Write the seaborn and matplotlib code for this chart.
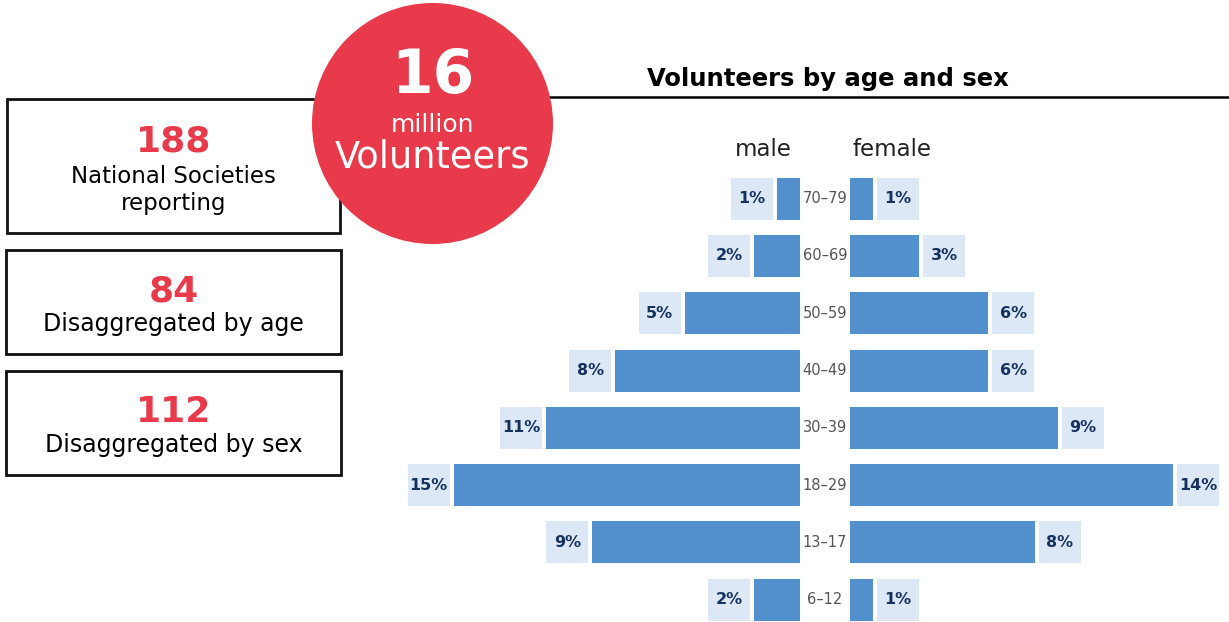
import matplotlib
matplotlib.use("Agg")
import matplotlib.pyplot as plt
import seaborn as sns
import pandas as pd
import numpy as np
from matplotlib.patches import Circle, Rectangle

sns.set_theme(style="white")
plt.rcParams['font.family'] = ['DejaVu Sans']

# ---- data ----
age_groups = ["70–79", "60–69", "50–59", "40–49", "30–39", "18–29", "13–17", "6–12"]
male = [1, 2, 5, 8, 11, 15, 9, 2]
female = [1, 3, 6, 6, 9, 14, 8, 1]
stat_values = ["188", "84", "112"]
stat_labels = ["National Societies\nreporting", "Disaggregated by age", "Disaggregated by sex"]
headline_value = "16"
headline_unit = "million"
headline_label = "Volunteers"
title = "Volunteers by age and sex"

BLUE = "#5291cd"
LIGHT = "#dde8f7"
NAVY = "#15325f"
RED = "#e83a4b"

W, H = 1229, 622
fig = plt.figure(figsize=(W / 100, H / 100), dpi=100)

PX = 23.08  # pixels per percentage point
ax_top, ax_bot = 170, 622
row_px = 57.3
y_top = -0.5
y_bot = y_top + (ax_bot - ax_top) / row_px

df = pd.DataFrame({"age": age_groups, "male": male, "female": female})

# overlay axes in pixel coords
ov = fig.add_axes([0, 0, 1, 1])
ov.set_xlim(0, W)
ov.set_ylim(H, 0)
ov.axis("off")
ov.set_zorder(0)

axL = fig.add_axes([380 / W, (H - ax_bot) / H, 420 / W, (ax_bot - ax_top) / H])
axR = fig.add_axes([850 / W, (H - ax_bot) / H, 379 / W, (ax_bot - ax_top) / H])
for ax in (axL, axR):
    ax.patch.set_alpha(0)
    ax.set_zorder(2)

bar_h = 0.733
gap = 4 / PX
box_w = 42 / PX

sns.barplot(data=df, x="male", y="age", orient="h", ax=axL, color=BLUE,
            width=bar_h, linewidth=0, saturation=1)
sns.barplot(data=df, x="female", y="age", orient="h", ax=axR, color=BLUE,
            width=bar_h, linewidth=0, saturation=1)

axL.set_xlim(420 / PX, 0)
axR.set_xlim(0, 379 / PX)
for ax, vals in ((axL, male), (axR, female)):
    ax.set_ylim(y_bot, y_top)
    ypos = np.arange(len(vals))
    lefts = np.array(vals) + gap
    ax.barh(ypos, box_w, left=lefts, height=bar_h, color=LIGHT, linewidth=0)
    for y, l, v in zip(ypos, lefts, vals):
        ax.text(l + box_w / 2, y, f"{v}%", ha="center", va="center",
                fontsize=11.5, fontweight="bold", color=NAVY)
    ax.axis("off")

for i, lab in enumerate(age_groups):
    axR.text(-25 / PX, i, lab, ha="center", va="center", fontsize=10.5,
             color="#555555", clip_on=False)

# male / female headers
ov.text(763, 149, "male", ha="center", va="center", fontsize=16.5, color="#222222")
ov.text(892, 149, "female", ha="center", va="center", fontsize=16.5, color="#222222")

# title and rule
ov.plot([440, W], [97, 97], color="black", lw=1.8, zorder=1)
ov.text(828, 79, title, ha="center", va="center", fontsize=17.5,
        fontweight="bold", color="black")

# stat boxes
boxes = [(7, 99, 333, 134), (6, 250, 335, 104), (6, 371, 335, 104)]
for (x, y, w, h), v, lab in zip(boxes, stat_values, stat_labels):
    ov.add_patch(Rectangle((x, y), w, h, fill=False, edgecolor="#111111", lw=2, zorder=1))
    cx = x + w / 2
    if "\n" in lab:
        ov.text(cx, 142, v, ha="center", va="center", fontsize=26,
                fontweight="bold", color=RED, zorder=2)
        ov.text(cx, 190, lab, ha="center", va="center", fontsize=16.5,
                color="black", linespacing=1.2, zorder=2)
    else:
        ov.text(cx, y + 41, v, ha="center", va="center", fontsize=26,
                fontweight="bold", color=RED, zorder=2)
        ov.text(cx, y + 74, lab, ha="center", va="center", fontsize=17,
                color="black", zorder=2)

# headline circle
ov.add_patch(Circle((432.5, 123.5), 120.5, color=RED, zorder=3, lw=0))
ov.text(432.5, 77, headline_value, ha="center", va="center", fontsize=43,
        fontweight="bold", color="white", zorder=4)
ov.text(432.5, 125, headline_unit, ha="center", va="center", fontsize=18,
        color="white", zorder=4)
ov.text(432.5, 157, headline_label, ha="center", va="center", fontsize=26.5,
        color="white", zorder=4)

fig.savefig("out.png", dpi=100)
